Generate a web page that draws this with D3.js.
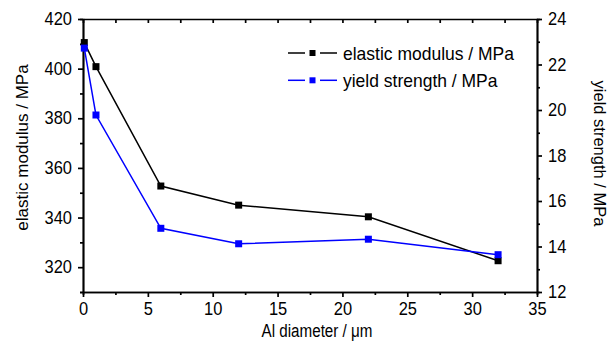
<!DOCTYPE html>
<html>
<head>
<meta charset="utf-8">
<script src="https://cdn.jsdelivr.net/npm/d3@7"></script>
<style>
  body { margin: 0; background: #fff; }
  text { font-family: "Liberation Sans", Arial, sans-serif; fill: #000; }
  .axis path, .axis line { stroke: #000; stroke-width: 1.7; }
  .axis text { font-size: 17.5px; }
</style>
</head>
<body>
<div id="chart"></div>
<script>
// data
var diameter = [0.1, 1, 6, 12, 22, 32];
var modulus = [410.5, 400.8, 352.7, 345.0, 340.3, 322.6];
var strength = [22.72, 19.78, 14.8, 14.12, 14.32, 13.64];
var seriesNames = ["elastic modulus / MPa", "yield strength / MPa"];

var xTicks = [0, 5, 10, 15, 20, 25, 30, 35];
var yLeftTicks = [320, 340, 360, 380, 400, 420];
var yRightTicks = [12, 14, 16, 18, 20, 22, 24];

var svgWidth = 611;
var svgHeight = 345;

//margin spacing
var margins = { top: 19, bottom: 53, left: 83, right: 74 };
var width = svgWidth - margins.left - margins.right;
var height = svgHeight - margins.top - margins.bottom;

//squeeze tick labels a little, like the original font
var squeeze = 0.94;

var svg = d3.select("#chart")
    .append("svg")
    .attr("width", svgWidth)
    .attr("height", svgHeight);

var group = svg.append("g")
    .attr("transform", `translate(${margins.left}, ${margins.top})`);

//scales
var xScale = d3.scaleLinear().domain([0, 35]).range([0, width]);
var yLeft = d3.scaleLinear().domain([310, 420]).range([height, 0]);
var yRight = d3.scaleLinear().domain([12, 24]).range([height, 0]);

//minor ticks first (no labels)
group.append("g")
    .attr("class", "axis")
    .attr("transform", `translate(0, ${height})`)
    .call(d3.axisBottom(xScale).tickValues(d3.range(2.5, 35, 5)).tickSize(3).tickFormat(""));
group.append("g")
    .attr("class", "axis")
    .call(d3.axisLeft(yLeft).tickValues(d3.range(310, 420, 20)).tickSize(3).tickFormat(""));
group.append("g")
    .attr("class", "axis")
    .attr("transform", `translate(${width}, 0)`)
    .call(d3.axisRight(yRight).tickValues(d3.range(13, 24, 2)).tickSize(3).tickFormat(""));
//top axis: ticks inward, no labels
group.append("g")
    .attr("class", "axis")
    .call(d3.axisBottom(xScale).tickValues(d3.range(0, 35.1, 2.5)).tickSize(4).tickSizeOuter(0).tickFormat(""));

//major axes
var xAxisG = group.append("g")
    .attr("class", "axis")
    .attr("transform", `translate(0, ${height})`)
    .call(d3.axisBottom(xScale).tickValues(xTicks).tickSize(5).tickSizeOuter(0).tickPadding(6));
var yLeftG = group.append("g")
    .attr("class", "axis")
    .call(d3.axisLeft(yLeft).tickValues(yLeftTicks).tickSize(5).tickSizeOuter(0));
var yRightG = group.append("g")
    .attr("class", "axis")
    .attr("transform", `translate(${width}, 0)`)
    .call(d3.axisRight(yRight).tickValues(yRightTicks).tickSize(5).tickSizeOuter(0));

xAxisG.selectAll("text")
    .attr("transform", `scale(${squeeze}, 1)`);
yLeftG.selectAll("text")
    .attr("x", -11 / squeeze)
    .attr("transform", `scale(${squeeze}, 1)`);
yRightG.selectAll("text")
    .attr("x", 11 / squeeze)
    .attr("transform", `scale(${squeeze}, 1)`);

//series
var series = [
    { name: seriesNames[0], values: modulus, y: yLeft, color: "#000000" },
    { name: seriesNames[1], values: strength, y: yRight, color: "#0000ff" }
];

series.forEach(function(s) {
    var line = d3.line()
        .x((d, i) => xScale(diameter[i]))
        .y(d => s.y(d));
    group.append("path")
        .datum(s.values)
        .attr("fill", "none")
        .attr("stroke", s.color)
        .attr("stroke-width", 1.5)
        .attr("d", line);
    group.selectAll(null)
        .data(s.values)
        .enter()
        .append("rect")
        .attr("x", (d, i) => xScale(diameter[i]) - 3.5)
        .attr("y", d => s.y(d) - 3.5)
        .attr("width", 7)
        .attr("height", 7)
        .attr("fill", s.color);
});

//legend
var legend = group.append("g").attr("transform", "translate(205, 34)");
series.forEach(function(s, i) {
    var row = legend.append("g").attr("transform", `translate(0, ${i * 27.3})`);
    row.append("line").attr("x1", 0).attr("x2", 17).attr("stroke", s.color).attr("stroke-width", 1.5);
    row.append("line").attr("x1", 32).attr("x2", 49).attr("stroke", s.color).attr("stroke-width", 1.5);
    row.append("rect").attr("x", 21.5).attr("y", -3).attr("width", 6).attr("height", 6).attr("fill", s.color);
    row.append("text")
        .attr("transform", "translate(55, 6.6) scale(0.94, 1)")
        .style("font-size", "18.6px")
        .text(s.name);
});

//axis titles
group.append("text")
    .attr("transform", `translate(${317 - margins.left}, ${337 - margins.top}) scale(0.8, 1)`)
    .attr("text-anchor", "middle")
    .style("font-size", "19px")
    .text("Al diameter / \u03bcm");

group.append("text")
    .attr("transform", `translate(-55, ${height / 2 - 8}) rotate(-90)`)
    .attr("text-anchor", "middle")
    .style("font-size", "17px")
    .text("elastic modulus / MPa");

group.append("text")
    .attr("transform", `translate(${width + 57}, ${height / 2 - 2}) rotate(90)`)
    .attr("text-anchor", "middle")
    .style("font-size", "16.5px")
    .text("yield strength / MPa");
</script>
</body>
</html>
